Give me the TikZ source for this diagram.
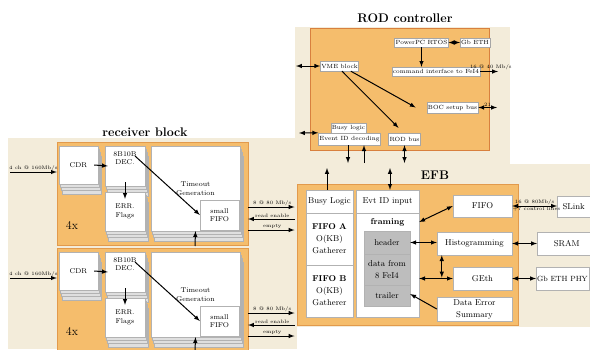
\documentclass[tikz,border=0pt]{standalone}
\usepackage{fontspec}
\usetikzlibrary{shadows}
\tikzset{>=latex}
\definecolor{parch}{HTML}{F3ECDA}
\definecolor{orng}{HTML}{F5BD6C}
\definecolor{orngdk}{HTML}{E29A4C}
\definecolor{rodedge}{HTML}{D8803E}
\definecolor{graybox}{HTML}{BDBDBD}
\tikzset{
	arr/.style={->, line width=1pt},
	dblarr/.style={<->, line width=1pt},
	sheet/.style={fill=gray!25, draw=gray!60, line width=.3pt},
	front/.style={draw=gray!60, fill=white, line width=.3pt, align=center, inner sep=1pt, font=\fontsize{7}{8.5}\selectfont},
	rodlbl/.style={draw=gray!70, fill=white, line width=.4pt, inner sep=1pt, font=\fontsize{6}{7}\selectfont},
	cell/.style={draw=gray!60, fill=white, line width=.4pt, align=center, inner sep=1pt, font=\fontsize{8.5}{12}\selectfont, drop shadow={shadow xshift=1pt, shadow yshift=-1pt, opacity=.35}},
	graycell/.style={cell, fill=graybox},
	rxbox/.style={fill=orng, draw=orngdk, line width=.4pt},
	ttl/.style={font=\bfseries\fontsize{12.5}{14}\selectfont},
	tiny/.style={font=\fontsize{5}{6}\selectfont, inner sep=1pt}
}
% stack of sheets: [options]{name}{cx}{cy}{w}{h}{text}
\newcommand{\stk}[7][]{
	\foreach \k in {3,2,1}
		\draw[sheet] ({#3-#5/2+\k*1.2},{#4-#6/2+\k*3.3}) rectangle ++(#5,#6);
	\node[front, minimum width=#5, minimum height=#6, #1] (#2) at (#3,#4) {#7};
}
% one receiver block: {prefix}{y offset}
\newcommand{\rx}[2]{
	\begin{scope}[yshift=-#2pt]
		\node[rxbox, minimum width=191, minimum height=103] (#1box) at (152.5,193.5) {};
		\stk{#1cdr}{78.5}{165}{39}{38}{CDR}
		\stk[text depth=16pt]{#1dec}{125}{166}{40}{40}{8B10B\\DEC.}
		\stk{#1err}{125}{211.5}{40}{39}{ERR.\\Flags}
		\stk{#1tmo}{195.5}{188.5}{89}{85}{Timeout\\Generation}
		\node[front, minimum width=39, minimum height=30] (#1sf) at (219.5,215) {small\\FIFO};
		\node[font=\fontsize{12}{12}\selectfont] (#1mult) at (72,225) {4x};
		\draw[arr] ([xshift=-4pt]#1cdr.east) -- ([xshift=3pt]#1dec.west);
		\draw[arr] ([xshift=10pt, yshift=10pt]#1dec.center) -- (#1sf.west);
		\draw[arr] ([yshift=4pt]#1dec.south) -- ([yshift=-7pt]#1err.north);
		\coordinate (#1in) at (10,172);
		\draw[arr] (#1in) -- (#1in -| #1box.west) node[tiny, midway, above]{4 ch @ 160Mb/s};
		\coordinate (#1up) at (195,246);
		\draw[arr] (#1up) -- (#1tmo.south);
		\coordinate (#1oa) at (248,207);
		\coordinate (#1ob) at (248,219);
		\coordinate (#1oc) at (248,230);
		\draw[arr, shorten >=2pt] (#1oa) -- (#1oa -| efb.west) node[tiny, midway, above]{8 @ 80 Mb/s};
		\draw[arr, shorten <=2pt] (#1ob -| efb.west) -- (#1ob) node[tiny, midway, above]{read enable};
		\draw[arr, shorten >=2pt] (#1oc) -- (#1oc -| efb.west) node[tiny, midway, above]{empty};
	\end{scope}
}

\begin{document}
\begin{tikzpicture}[x=1pt, y=-1pt]
	\useasboundingbox (0,0) rectangle (590,349);
	\fill[white] (0,0) rectangle (590,349);
	\fill[parch] (295,27) rectangle (510,164);
	\fill[parch] (8,138) rectangle (297,349);
	\fill[parch] (295,164) rectangle (590,327);
	% ROD controller
	\node[ttl] (rodttl) at (405,18) {ROD controller};
	\draw[fill=orng, draw=rodedge, line width=.8pt] (310,28) rectangle (489,150);
	\node[rodlbl, minimum width=49, minimum height=9] (ppc) at (421.5,42.5) {PowerPC RTOS};
	\node[rodlbl, minimum width=27, minimum height=9] (gbeth) at (475,42.5) {Gb ETH};
	\node[rodlbl, minimum width=78, minimum height=9] (cmd) at (436,71.5) {command interface to FeI4};
	\node[rodlbl, minimum width=35, minimum height=10] (vme) at (339.5,66) {VME block};
	\node[rodlbl, minimum width=45, minimum height=11] (boc) at (452.5,107.5) {BOC setup bus};
	\node[rodlbl, minimum width=31, minimum height=10] (busyl) at (348.5,128) {Busy logic};
	\node[rodlbl, minimum width=55, minimum height=12] (evtdec) at (349.5,139) {Event ID decoding};
	\node[rodlbl, minimum width=31, minimum height=12] (rodbus) at (404.5,139) {ROD bus};
	\draw[dblarr] (ppc) -- (gbeth);
	\draw[arr] (ppc.south) -- (cmd.north -| ppc.south);
	\coordinate (cmdout) at (498,71.5);
	\draw[arr] (cmd) -- (cmdout) node[tiny, pos=.6, above]{16 @ 40 Mb/s};
	\coordinate (vmein) at (296,66);
	\draw[dblarr] (vmein) -- (vme.west);
	\draw[arr] ([xshift=-8pt]vme.south east) -- ([xshift=-11pt]boc.west);
	\draw[arr] ([xshift=2.5pt]vme.south) -- ([xshift=-6pt, yshift=5pt]rodbus.north);
	\coordinate (bocout) at (497,107.5);
	\draw[dblarr] (boc) -- (bocout) node[tiny, pos=.5, above]{21};
	\coordinate (evtin) at (299,133);
	\draw[dblarr] (evtin) -- (evtdec.north west);
	\coordinate (evtdn) at (348,163);
	\coordinate (evtup) at (364,163);
	\coordinate (rodbusdn) at (404.5,163);
	\draw[arr] ([xshift=-1.5pt]evtdec.south) -- (evtdn);
	\draw[arr] (evtup) -- ([xshift=14.5pt]evtdec.south);
	\draw[dblarr] (rodbus.south) -- (rodbusdn);
	% EFB
	\node[ttl] (efbttl) at (435,175) {EFB};
	\node[fill=orng, draw=orngdk, line width=1pt, minimum width=221, minimum height=141] (efb) at (407.5,254.5) {};
	\node[cell, minimum width=47, minimum height=23] (busylg) at (329.5,201.5) {Busy Logic};
	\node[cell, minimum width=47, minimum height=52] (fifoa) at (329.5,239) {\textbf{FIFO A}\\O(KB)\\Gatherer};
	\node[cell, minimum width=47, minimum height=52] (fifob) at (329.5,291) {\textbf{FIFO B}\\O(KB)\\Gatherer};
	\node[cell, minimum width=63, minimum height=23] (evtid) at (387.5,201.5) {Evt ID input};
	\node[cell, minimum width=63, minimum height=104] (frm) at (387.5,265) {};
	\node[font=\bfseries\fontsize{8.5}{10}\selectfont] (frmlbl) at (387.5,222) {framing};
	\node[graycell, minimum width=46, minimum height=23] (hdr) at (387,242.5) {header};
	\node[graycell, minimum width=46, minimum height=31] (dat) at (387,269.5) {data from\\8 FeI4};
	\node[graycell, minimum width=46, minimum height=21] (trl) at (387,295.5) {trailer};
	\node[cell, minimum width=59, minimum height=22] (fifo) at (482.5,206) {FIFO};
	\node[cell, minimum width=75, minimum height=23] (histo) at (474.5,243.5) {Histogramming};
	\node[cell, minimum width=59, minimum height=23] (geth) at (482.5,278.5) {GEth};
	\node[cell, minimum width=75, minimum height=24] (des) at (474.5,309) {Data Error\\Summary};
	\node[cell, anchor=west, minimum width=33, minimum height=21] (slink) at (557,206.5) {SLink};
	\node[cell, anchor=west, minimum width=59, minimum height=23] (sram) at (537,243.5) {SRAM};
	\node[cell, anchor=west, inner xsep=1pt, minimum height=23, font=\fontsize{7.5}{9}\selectfont] (gbphy) at (536,278.5) {Gb ETH PHY};
	\coordinate (busyup) at (327,168);
	\coordinate (evtidup) at (390,168);
	\draw[arr] ([xshift=-2.5pt]busylg.north) -- (busyup);
	\draw[dblarr] ([xshift=2.5pt]evtid.north) -- (evtidup);
	\draw[dblarr] (frm.east |- frmlbl) -- (fifo.west);
	\draw[dblarr] (hdr.east) -- (hdr.east -| histo.west);
	\draw[dblarr] (frm.east |- geth) -- (geth.west);
	\draw[dblarr, shorten >=1pt] ([xshift=5pt]histo.south west) -- ([xshift=5pt]histo.south west |- geth);
	\draw[arr] (des.west) -- ([yshift=1.5pt]trl.east);
	\draw[dblarr] (fifo.east) -- (fifo.east -| slink.west) node[tiny, midway, above]{16 @ 80Mb/s} node[tiny, midway, below, xshift=2pt]{+7 control lines};
	\draw[dblarr] (histo.east) -- (sram.west);
	\draw[dblarr] (geth.east) -- (gbphy.west);
	% receiver blocks
	\node[ttl] (rxttl) at (145,132) {receiver block};
	\rx{ra}{0}
	\rx{rb}{106}
\end{tikzpicture}
\end{document}
